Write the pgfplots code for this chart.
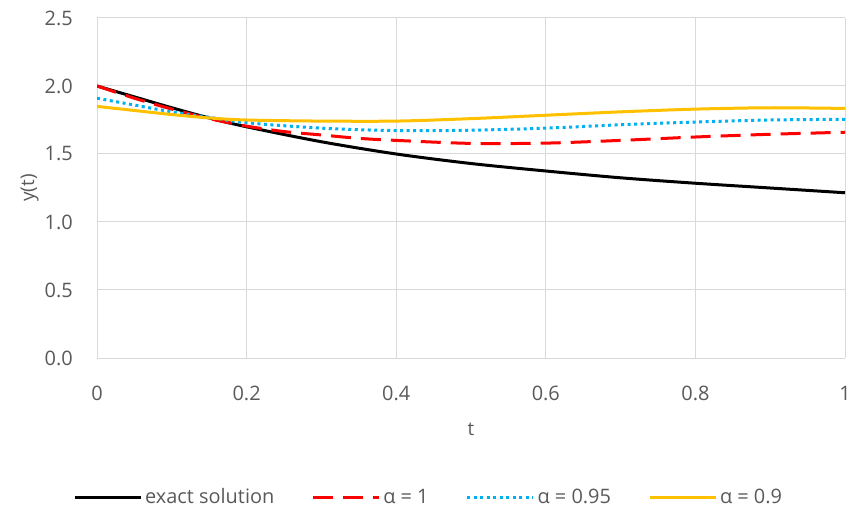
\documentclass[border=0pt]{standalone}
\usepackage{fontspec}
\setmainfont{Open Sans}
\usepackage{pgfplots}
\pgfplotsset{compat=1.18}
\definecolor{txt}{HTML}{595959}
\definecolor{gridc}{HTML}{D9D9D9}
\definecolor{ared}{HTML}{FF0000}
\definecolor{ablue}{HTML}{00B0F0}
\definecolor{aorange}{HTML}{FFC000}
\begin{document}
\begin{tikzpicture}
\useasboundingbox (0,0) rectangle (853bp,508bp);
\begin{axis}[
  at={(97bp,150bp)}, anchor=south west,
  scale only axis, width=748bp, height=340bp,
  xmin=0, xmax=1, ymin=0, ymax=2.5,
  xtick={0,0.2,0.4,0.6,0.8,1}, ytick={0,0.5,1,1.5,2,2.5},
  axis line style={draw=none}, major tick length=0pt,
  grid=major, major grid style={gridc, line width=1bp},
  tick label style={font=\fontsize{20}{23}\selectfont, text=txt},
  /pgf/number format/assume math mode=true,
  yticklabel style={/pgf/number format/fixed, /pgf/number format/fixed zerofill, /pgf/number format/precision=1},
  xticklabel style={inner sep=0pt, anchor=north, yshift=-28bp},
  yticklabel style={inner sep=0pt, anchor=east, xshift=-24bp},
  xlabel={t}, ylabel={y(t)},
  label style={font=\fontsize{19}{22}\selectfont, text=txt},
  xlabel style={at={(0.5,-0.21)}, anchor=center},
  ylabel style={at={(-0.09,0.5)}, anchor=center},
  legend columns=4, legend cell align=left,
  legend style={draw=none, fill=none, at={(0.444,-0.409)}, anchor=center,
    font=\fontsize{20}{24}\selectfont, text=txt,
    nodes={inner sep=3bp},
    /tikz/every even column/.append style={column sep=34bp}},
  legend image code/.code={\draw[#1] (0bp,0bp) -- (66bp,0bp);},
]
\addplot[black, line width=3bp, smooth] coordinates {
(0,2.00) (0.05,1.92) (0.1,1.84) (0.15,1.765) (0.2,1.70) (0.3,1.59) (0.4,1.50) (0.5,1.43) (0.6,1.375) (0.7,1.325) (0.8,1.285) (0.9,1.25) (1.0,1.215)};
\addlegendentry{exact solution}
\addplot[ared, line width=3bp, dash pattern=on 20bp off 10bp, smooth] coordinates {
(0,2.00) (0.05,1.91) (0.1,1.83) (0.15,1.76) (0.2,1.705) (0.25,1.665) (0.3,1.64) (0.35,1.615) (0.4,1.60) (0.5,1.578) (0.6,1.58) (0.7,1.60) (0.8,1.625) (0.9,1.645) (1.0,1.66)};
\addlegendentry{α = 1}
\addplot[ablue, line width=3bp, dash pattern=on 3bp off 3.5bp, smooth] coordinates {
(0,1.91) (0.05,1.86) (0.1,1.81) (0.15,1.77) (0.2,1.73) (0.3,1.69) (0.4,1.672) (0.5,1.675) (0.6,1.69) (0.7,1.715) (0.8,1.735) (0.9,1.75) (1.0,1.755)};
\addlegendentry{α = 0.95}
\addplot[aorange, line width=3bp, smooth] coordinates {
(0,1.85) (0.05,1.82) (0.1,1.79) (0.15,1.765) (0.2,1.75) (0.3,1.742) (0.4,1.742) (0.5,1.76) (0.6,1.785) (0.7,1.81) (0.8,1.83) (0.9,1.84) (1.0,1.835)};
\addlegendentry{α = 0.9}
\end{axis}
\end{tikzpicture}
\end{document}
